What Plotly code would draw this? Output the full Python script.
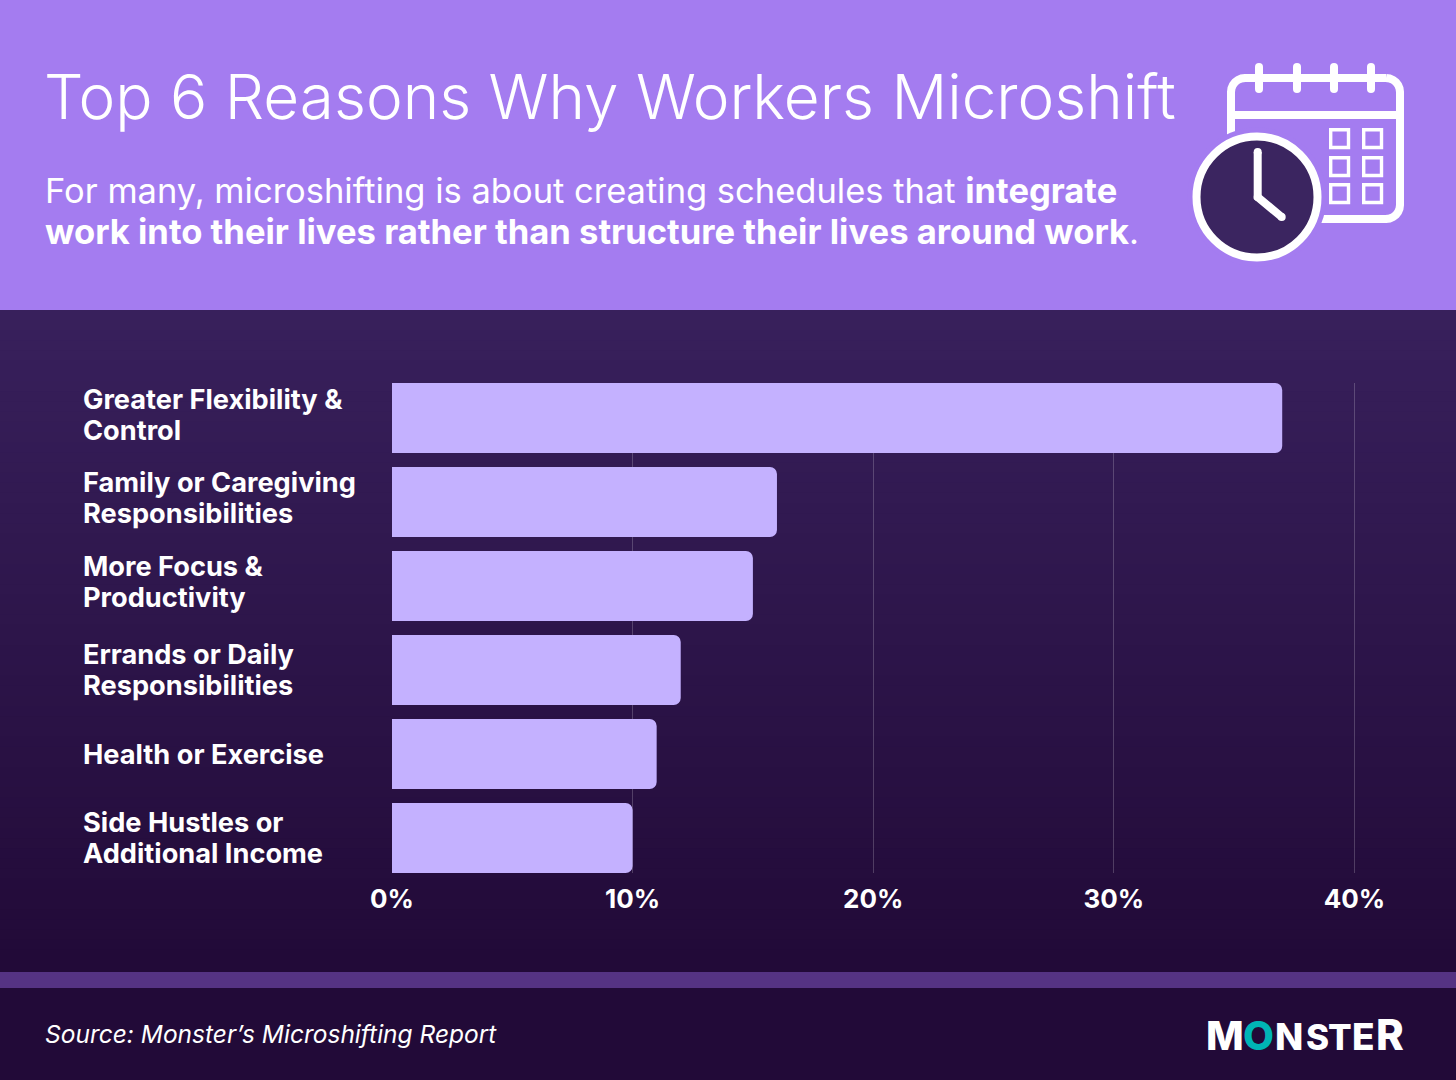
import math
import plotly.graph_objects as go

WIDTH, HEIGHT = 1456, 1080

categories = ["Greater Flexibility &<br>Control", "Family or Caregiving<br>Responsibilities",
              "More Focus &<br>Productivity", "Errands or Daily<br>Responsibilities",
              "Health or Exercise", "Side Hustles or<br>Additional Income"]
shares = [37, 16, 15, 12, 11, 10]
tick_values = [0, 10, 20, 30, 40]
tick_labels = ["0%", "10%", "20%", "30%", "40%"]
label_nudges = [3, 4, 4, 0, 0, 0]

title = "Top 6 Reasons Why Workers Microshift"
subtitle_lines = ["For many, microshifting is about creating schedules that <b>integrate</b>",
                  "<b>work into their lives rather than structure their lives around work</b>."]
source = "<i>Source: Monster’s Microshifting Report</i>"

FONT = "Inter"
HEADER = "#A47CF0"
BAR = "#C4B1FF"
DARK_TOP = (56, 32, 92)
DARK_BOTTOM = (34, 10, 56)
CLOCK = "#3B2560"
WHITE = "#FFFFFF"
PAD_UNITS = 0.0415  # keeps the 0% and 40% gridlines inside the plot area


def px(x):
    return x / WIDTH


def py(y):
    return 1 - y / HEIGHT


def rect(x0, y0, x1, y1, fill, layer="below"):
    return dict(type="rect", xref="paper", yref="paper", x0=px(x0), x1=px(x1), y0=py(y0), y1=py(y1),
                fillcolor=fill, line_width=0, layer=layer)


def stroke(points, width=8, color=WHITE):
    d = "M " + " L ".join(f"{px(x):.5f},{py(y):.5f}" for x, y in points)
    return dict(type="path", xref="paper", yref="paper", path=d, line=dict(color=color, width=width),
                fillcolor="rgba(0,0,0,0)", layer="above")


def disc(cx, cy, r, fill, line_color=None, line_width=0):
    return dict(type="circle", xref="paper", yref="paper", x0=px(cx - r), x1=px(cx + r),
                y0=py(cy + r), y1=py(cy - r), fillcolor=fill,
                line=dict(color=line_color or fill, width=line_width), layer="above")


def rounded_outline(x0, y0, x1, y1, r):
    # Calendar body: one closed polyline with rounded corners
    pts = []
    steps = 6
    corners = [(x1 - r, y0 + r, -90), (x1 - r, y1 - r, 0), (x0 + r, y1 - r, 90), (x0 + r, y0 + r, 180)]
    for cx, cy, start in corners:
        for i in range(steps + 1):
            a = math.radians(start + 90 * i / steps)
            pts.append((cx + r * math.cos(a), cy + r * math.sin(a)))
    pts.append(pts[0])
    return pts


def text_at(text, x, y, size, weight=400, color=WHITE, xanchor="left"):
    # Text placed on the hidden full-page pixel axes
    return dict(text=text, xref="x2", yref="y2", x=x, y=y, xanchor=xanchor, yanchor="middle",
                align="left", showarrow=False, font=dict(size=size, color=color, family=FONT, weight=weight))


shapes = [rect(0, 0, WIDTH, 310, HEADER), rect(0, 310, WIDTH, HEIGHT, "rgb(34,10,56)")]

# Vertical gradient behind the chart panel
BANDS = 64
for i in range(BANDS):
    t = i / (BANDS - 1)
    colour = "rgb({},{},{})".format(*[round(a + (b - a) * t) for a, b in zip(DARK_TOP, DARK_BOTTOM)])
    y0 = 310 + i * 650 / BANDS
    shapes.append(rect(0, y0, WIDTH, y0 + 650 / BANDS + 1, colour))

shapes.append(rect(0, 972, WIDTH, 988, "#553383"))

# Calendar icon
shapes.append(stroke(rounded_outline(1231, 78, 1400, 219, 14)))
shapes.append(stroke([(1231, 115), (1400, 115)]))
for ring_x in (1259, 1297, 1334, 1371):
    shapes.append(stroke([(ring_x, 67), (ring_x, 89)]))
    shapes.append(disc(ring_x, 67, 4, WHITE))
    shapes.append(disc(ring_x, 89, 4, WHITE))
for sx in (1329, 1362):
    for sy in (128, 156, 183):
        shapes.append(dict(type="rect", xref="paper", yref="paper", x0=px(sx + 1.7), x1=px(sx + 19.5),
                           y0=py(sy + 19.5), y1=py(sy + 1.7), fillcolor="rgba(0,0,0,0)",
                           line=dict(color=WHITE, width=3.4), layer="above"))

# Clock in front of the calendar
shapes.append(disc(1257, 197, 69.5, HEADER))
shapes.append(disc(1257, 197, 60.5, CLOCK, WHITE, 8))
shapes.append(stroke([(1257.7, 152), (1257.7, 197), (1281.7, 217)]))
for hx, hy in ((1257.7, 152), (1257.7, 197), (1281.7, 217)):
    shapes.append(disc(hx, hy, 4, WHITE))

annotations = [
    text_at(title, 42, 96, 62, 350),
    text_at(subtitle_lines[0], 43, 190, 34.5),
    text_at(subtitle_lines[1], 43, 231, 34.6),
    text_at(source, 43, 1034, 24.5),
]

# Category labels: each line is its own annotation so the leading stays tight
for category, nudge in zip(categories, label_nudges):
    lines = category.split("<br>")
    for n, line in enumerate(lines):
        offset = 15.5 * (len(lines) - 1 - 2 * n) + nudge
        annotations.append(dict(text=f"<b>{line}</b>", xref="x2", yref="y", x=81, y=category,
                                xanchor="left", yanchor="middle", yshift=offset, showarrow=False,
                                font=dict(size=27.2, color=WHITE, family=FONT)))

# Logotype letters, spaced individually and seated on a shared baseline
logo_letters = ["M", "O", "N", "S", "T", "E", "R"]
logo_centres = [1225, 1258, 1289, 1317, 1339.5, 1363, 1390]
logo_sizes = [40, 40, 37, 35, 35, 37, 42]
logo_colours = [WHITE, "#00B5B5", WHITE, WHITE, WHITE, WHITE, WHITE]
LOGO_BASELINE = 1050
for letter, cx, size, colour in zip(logo_letters, logo_centres, logo_sizes, logo_colours):
    annotations.append(text_at(letter, cx, LOGO_BASELINE - 0.364 * size, size, 800, colour, "center"))

fig = go.Figure(go.Bar(x=shares, y=categories, orientation="h", width=0.8333,
                       marker=dict(color=BAR, line_width=0, cornerradius=7), hoverinfo="skip"))

fig.update_layout(
    width=WIDTH, height=HEIGHT, autosize=False, margin=dict(l=0, r=0, t=0, b=0, pad=0),
    paper_bgcolor="rgb(34,10,56)", plot_bgcolor="rgba(0,0,0,0)", showlegend=False,
    shapes=shapes, annotations=annotations, font=dict(family=FONT, color=WHITE),
    xaxis=dict(domain=[px(391), px(1355.4)], range=[-PAD_UNITS, 40 + PAD_UNITS], tickmode="array",
               tickvals=tick_values, ticktext=[f"<b>{t}</b>" for t in tick_labels],
               tickfont=dict(size=26, color=WHITE, family=FONT),
               showgrid=True, gridcolor="rgba(255,255,255,0.2)", gridwidth=1,
               zeroline=False,
               ticks="outside", ticklen=3, tickcolor="rgba(0,0,0,0)", showline=False, automargin=False),
    yaxis=dict(domain=[py(873), py(383)], range=[5.4167, -0.4167], showticklabels=False,
               showgrid=False, zeroline=False, ticks="", showline=False, automargin=False),
    # Hidden axes spanning the page, used to place header and footer text in pixels
    xaxis2=dict(domain=[0, 1], range=[0, WIDTH], visible=False, anchor="y2", fixedrange=True),
    yaxis2=dict(domain=[0, 1], range=[HEIGHT, 0], visible=False, anchor="x2", fixedrange=True),
)

fig.write_html("out.html", config=dict(displayModeBar=False))
